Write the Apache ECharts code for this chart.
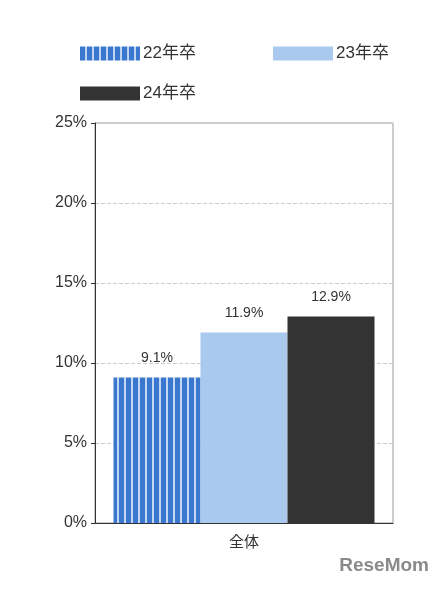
<!DOCTYPE html>
<html>
<head>
    <meta charset="utf-8">
    <style type="text/css">
        html,body { margin: 0px; padding: 0px; height: 100%; background: #fff; }
    </style>
    <script src="https://cdn.jsdelivr.net/npm/echarts@6/dist/echarts.min.js"></script>
</head>
<body>
    <div id="canvas1" style="width: 443px; height: 591px;"></div>
    <script type="text/javascript">
        var categories = ['全体'];
        var seriesNames = ['22年卒', '23年卒', '24年卒'];
        var values22 = [9.1];
        var values23 = [11.9];
        var values24 = [12.9];
        var yTicks = [0, 5, 10, 15, 20, 25];

        // 縦縞パターン
        var pc = document.createElement('canvas');
        pc.width = 7; pc.height = 10;
        var ctx = pc.getContext('2d');
        ctx.fillStyle = '#c4d7f2'; ctx.fillRect(0, 0, 7, 10);
        ctx.fillStyle = '#3a78cf'; ctx.fillRect(0, 0, 5, 10);
        var stripe = { image: pc, repeat: 'repeat' };

        var font = 'Arial, "Noto Sans CJK JP", sans-serif';
        var myChart1 = echarts.init(document.getElementById('canvas1'));

        function legendAt(name, left, top) {
            return {
                data: [name], left: left, top: top, itemWidth: 60, itemHeight: 14,
                itemGap: 4, icon: 'rect',
                textStyle: { fontSize: 17, color: '#333', fontFamily: font, padding: [0, 0, 0, -2] }
            };
        }

        var label = {
            show: true, position: 'top', distance: 12, color: '#333', fontSize: 14, fontFamily: font,
            formatter: function (p) { return p.value.toFixed(1) + '%'; }
        };

        var option1 = {
            animation: false,
            legend: [
                legendAt(seriesNames[0], 75, 40),
                legendAt(seriesNames[1], 268, 40),
                legendAt(seriesNames[2], 75, 80)
            ],
            grid: { left: 95, right: 50, top: 123, bottom: 68, show: true, borderColor: '#999', borderWidth: 1 },
            xAxis: {
                type: 'category', data: categories,
                axisLine: { lineStyle: { color: '#333' } }, axisTick: { show: false },
                axisLabel: { fontSize: 15, color: '#333', fontFamily: font, margin: 12 }
            },
            yAxis: {
                type: 'value', min: yTicks[0], max: yTicks[yTicks.length - 1], interval: 5,
                axisLine: { show: true, lineStyle: { color: '#333' } },
                axisTick: { show: true, length: 4, lineStyle: { color: '#333' } },
                axisLabel: { formatter: '{value}%', fontSize: 16, color: '#333', fontFamily: font },
                splitLine: { lineStyle: { color: '#ccc', type: 'dashed' } }
            },
            series: [
                { name: seriesNames[0], type: 'bar', data: values22, barWidth: 87, barGap: '0%', itemStyle: { color: stripe }, label: label },
                { name: seriesNames[1], type: 'bar', data: values23, barWidth: 87, itemStyle: { color: '#a9c9ef' }, label: label },
                { name: seriesNames[2], type: 'bar', data: values24, barWidth: 87, itemStyle: { color: '#333333' }, label: label }
            ],
            graphic: [{
                type: 'text', right: 14, bottom: 16,
                style: { text: 'ReseMom', fontSize: 19, fontWeight: 'bold', fill: '#8a8a8a', fontFamily: font }
            }]
        };
        myChart1.setOption(option1);
    </script>
</body>
</html>
